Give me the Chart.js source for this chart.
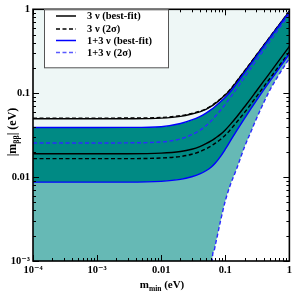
<!DOCTYPE html>
<html>
<head>
<meta charset="utf-8">
<script src="https://cdn.jsdelivr.net/npm/chart.js@4/dist/chart.umd.min.js"></script>
<style>
html,body{margin:0;padding:0;background:#fff;}
#wrap{width:295px;height:295px;}
</style>
</head>
<body>
<div id="wrap"><canvas id="c" width="295" height="295"></canvas></div>
<script>
// ---- data ----
const mMin = [1e-4, 1e-3, 0.003, 0.01, 0.02, 0.03, 0.04, 0.05, 0.06, 0.07, 0.085, 0.1, 0.12, 0.15, 0.2, 0.25, 0.3, 0.4, 0.5, 0.7, 1];
const nu3BestUpper  = [0.0495, 0.0495, 0.0496, 0.0505, 0.053, 0.0565, 0.06, 0.064, 0.0695, 0.0755, 0.085, 0.095, 0.11, 0.137, 0.183, 0.23, 0.278, 0.373, 0.47, 0.66, 0.95];
const nu3SigmaUpper = [0.0505, 0.0505, 0.0506, 0.0514, 0.054, 0.0575, 0.061, 0.065, 0.0705, 0.0766, 0.086, 0.0962, 0.1113, 0.1385, 0.185, 0.232, 0.28, 0.375, 0.472, 0.662, 0.955];
const nu3BestLower  = [0.019, 0.019, 0.019, 0.0193, 0.0202, 0.0215, 0.0231, 0.025, 0.027, 0.0292, 0.0325, 0.0365, 0.0425, 0.052, 0.069, 0.086, 0.104, 0.14, 0.176, 0.25, 0.36];
const nu3SigmaLower = [0.0166, 0.0166, 0.0166, 0.0169, 0.0176, 0.0187, 0.0201, 0.0217, 0.0235, 0.0254, 0.0283, 0.0316, 0.0367, 0.045, 0.059, 0.074, 0.089, 0.12, 0.151, 0.214, 0.31];
const nu13BestUpper = [0.039, 0.039, 0.0391, 0.0399, 0.0435, 0.048, 0.0527, 0.058, 0.0637, 0.07, 0.0795, 0.0895, 0.104, 0.13, 0.176, 0.222, 0.269, 0.364, 0.459, 0.646, 0.93];
const nu13BestLower = [0.0087, 0.0087, 0.0087, 0.0089, 0.0094, 0.0101, 0.0109, 0.0119, 0.0131, 0.0147, 0.0178, 0.0215, 0.027, 0.0355, 0.05, 0.065, 0.08, 0.11, 0.14, 0.2, 0.295];
const nu13SigmaMid  = [0.0255, 0.0255, 0.0256, 0.0262, 0.0285, 0.032, 0.036, 0.041, 0.0465, 0.053, 0.063, 0.074, 0.089, 0.113, 0.155, 0.198, 0.242, 0.33, 0.42, 0.6, 0.88];
const edgeMin       = [1e-4, 0.062, 0.0625, 0.066, 0.0705, 0.0843, 0.1, 0.12, 0.15, 0.2, 0.26, 0.3, 0.4, 0.5, 0.7, 1];
const nu13SigmaLow  = [1e-6, 1e-6, 0.001, 0.0013, 0.0016, 0.003, 0.0052, 0.0081, 0.0125, 0.023, 0.037, 0.048, 0.078, 0.11, 0.17, 0.26];

const xTickVals = [1e-4, 1e-3, 0.01, 0.1, 1];
const xTickLabels = ['10\u207B\u2074', '10\u207B\u00B3', '0.01', '0.1', '1'];
const yTickVals = [1e-3, 0.01, 0.1, 1];
const yTickLabels = ['10\u207B\u00B3', '0.01', '0.1', '1'];
const legendLabels = ['3 \u03BD (best-fit)', '3 \u03BD (2\u03C3)', '1+3 \u03BD (best-fit)', '1+3 \u03BD (2\u03C3)'];

const PALE = '#eef7f6', DARK = '#008a84', LIGHT = '#66b9b5', BLUE = '#0000ff', BLUED = '#2b2bff';
const SERIF = '"Liberation Serif", "DejaVu Serif", serif';

function pts(xs, ys) { return xs.map((x, i) => ({x: x, y: ys[i]})); }
function lineDs(data, color, dash, fill, bg) {
  return {data: data, borderColor: color, borderWidth: 1.4, borderDash: dash || [], pointRadius: 0,
    cubicInterpolationMode: 'monotone', fill: fill === undefined ? false : fill, backgroundColor: bg || 'transparent'};
}

const datasets = [
  lineDs(pts(mMin, nu13BestUpper), BLUE, null, 'end', PALE),
  lineDs(pts(mMin, nu13BestLower), BLUE, null, {target: 0}, DARK),
  lineDs(pts(edgeMin, nu13SigmaLow), BLUED, [4, 2.5], {target: 1}, LIGHT),
  lineDs(pts(mMin, nu13SigmaMid), BLUED, [4, 2.5]),
  lineDs(pts(mMin, nu3BestUpper), '#000'),
  lineDs(pts(mMin, nu3BestLower), '#000'),
  lineDs(pts(mMin, nu3SigmaUpper), '#000', [4, 2.5]),
  lineDs(pts(mMin, nu3SigmaLower), '#000', [4, 2.5])
];

const frameTicks = {
  id: 'frameTicks',
  afterDraw(chart) {
    const ctx = chart.ctx, a = chart.chartArea, xs = chart.scales.x, ys = chart.scales.y;
    ctx.save();
    ctx.strokeStyle = '#000';
    ctx.lineWidth = 1;
    ctx.beginPath();
    for (let e = -4; e <= 0; e++) {
      for (let k = 1; k <= 9; k++) {
        const v = k * Math.pow(10, e);
        if (v > 1.0001) break;
        const p = Math.round(xs.getPixelForValue(v)) + 0.5;
        const len = k === 1 ? 6 : 3;
        ctx.moveTo(p, a.bottom); ctx.lineTo(p, a.bottom - len);
        ctx.moveTo(p, a.top); ctx.lineTo(p, a.top + len);
      }
    }
    for (let e = -3; e <= 0; e++) {
      for (let k = 1; k <= 9; k++) {
        const v = k * Math.pow(10, e);
        if (v > 1.0001) break;
        const p = Math.round(ys.getPixelForValue(v)) + 0.5;
        const len = k === 1 ? 6 : 3;
        ctx.moveTo(a.left, p); ctx.lineTo(a.left + len, p);
        ctx.moveTo(a.right, p); ctx.lineTo(a.right - len, p);
      }
    }
    ctx.stroke();
    ctx.lineWidth = 1.6;
    ctx.strokeRect(a.left, a.top, a.right - a.left, a.bottom - a.top);

    // legend box
    const bx = 44, by = a.top, bw = 124, bh = 58;
    ctx.fillStyle = '#fff';
    ctx.fillRect(bx, by, bw, bh);
    ctx.lineWidth = 1;
    ctx.strokeStyle = '#555';
    ctx.strokeRect(bx + 0.5, by + 0.5, bw, bh);
    const rows = [16, 29, 40.5, 52.5];
    const styles = [['#000', []], ['#000', [4, 2.5]], [BLUE, []], ['#5a5aff', [4, 2.5]]];
    ctx.font = 'bold 10.5px ' + SERIF;
    ctx.textBaseline = 'middle';
    ctx.textAlign = 'left';
    rows.forEach((y, i) => {
      ctx.beginPath();
      ctx.strokeStyle = styles[i][0];
      ctx.setLineDash(styles[i][1]);
      ctx.lineWidth = 1.5;
      ctx.moveTo(56, y); ctx.lineTo(76, y);
      ctx.stroke();
      ctx.setLineDash([]);
      ctx.fillStyle = '#000';
      ctx.fillText(legendLabels[i], 87, y + 0.5);
    });

    // axis titles
    ctx.fillStyle = '#000';
    ctx.textBaseline = 'alphabetic';
    const big = 'bold 11px ' + SERIF, small = 'bold 7.5px ' + SERIF;
    ctx.font = big; const w1 = ctx.measureText('m').width;
    ctx.font = small; const w2 = ctx.measureText('min').width;
    ctx.font = big; const w3 = ctx.measureText(' (eV)').width;
    const x0 = 162 - (w1 + w2 + w3) / 2, yb = 288;
    ctx.font = big; ctx.fillText('m', x0, yb);
    ctx.font = small; ctx.fillText('min', x0 + w1, yb + 2.5);
    ctx.font = big; ctx.fillText(' (eV)', x0 + w1 + w2, yb);
    const bigY = 'bold 12px ' + SERIF, smallY = 'bold 8px ' + SERIF;
    ctx.save();
    ctx.translate(16, 132);
    ctx.rotate(-Math.PI / 2);
    ctx.font = bigY; const u1 = ctx.measureText('|m').width;
    ctx.font = smallY; const u2 = ctx.measureText('\u03B2\u03B2').width;
    ctx.font = bigY; const u3 = ctx.measureText('| (eV)').width;
    const s0 = -(u1 + u2 + u3) / 2;
    ctx.font = bigY; ctx.fillText('|m', s0, 0);
    ctx.font = smallY; ctx.fillText('\u03B2\u03B2', s0 + u1, 2.5);
    ctx.font = bigY; ctx.fillText('| (eV)', s0 + u1 + u2, 0);
    ctx.restore();
    ctx.restore();
  }
};

new Chart(document.getElementById('c'), {
  type: 'line',
  data: {datasets: datasets},
  options: {
    responsive: false,
    animation: false,
    layout: {padding: {left: 0, right: 4, top: 5, bottom: 0}},
    plugins: {legend: {display: false}, tooltip: {enabled: false}, filler: {drawTime: 'beforeDatasetsDraw'}},
    scales: {
      x: {
        type: 'logarithmic', min: 1e-4, max: 1,
        grid: {display: false, drawTicks: false}, border: {display: false},
        afterBuildTicks: s => { s.ticks = xTickVals.map(v => ({value: v})); },
        afterFit: s => { s.height = 34; },
        ticks: {autoSkip: false, maxRotation: 0, padding: 3, color: '#000',
          font: {family: SERIF, weight: 'bold', size: 10.5},
          callback: (v) => { const i = xTickVals.findIndex(t => Math.abs(t - v) / t < 1e-6); return i >= 0 ? xTickLabels[i] : ''; }}
      },
      y: {
        type: 'logarithmic', min: 1e-3, max: 1,
        grid: {display: false, drawTicks: false}, border: {display: false},
        afterBuildTicks: s => { s.ticks = yTickVals.map(v => ({value: v})); },
        afterFit: s => { s.width = 33; },
        ticks: {autoSkip: false, padding: 3, color: '#000',
          font: {family: SERIF, weight: 'bold', size: 10.5},
          callback: (v) => { const i = yTickVals.findIndex(t => Math.abs(t - v) / t < 1e-6); return i >= 0 ? yTickLabels[i] : ''; }}
      }
    }
  },
  plugins: [frameTicks]
});
</script>
</body>
</html>
